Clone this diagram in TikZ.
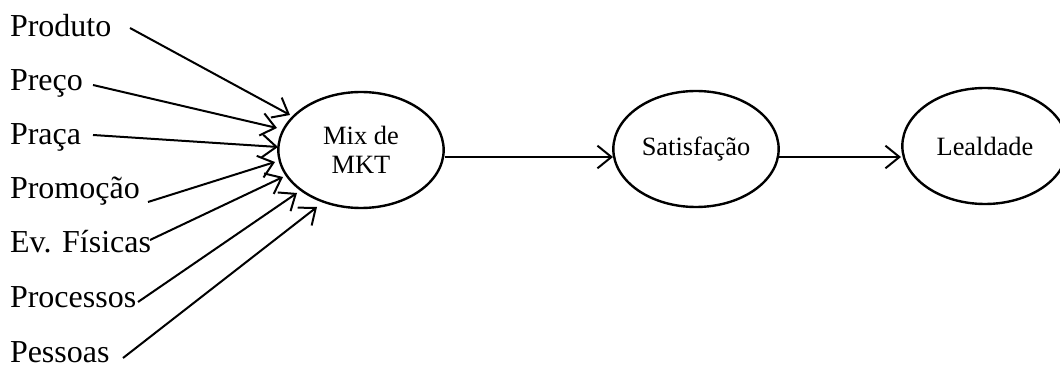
\documentclass[tikz,border=0pt]{standalone}
\usepackage{fontspec}
\setmainfont{Liberation Serif}
\usetikzlibrary{arrows.meta,shapes.geometric}
\begin{document}
% one unit = one pixel of a 1060 x 370 canvas, y pointing down
\begin{tikzpicture}[x=0.75pt,y=-0.75pt,
  every node/.style={inner sep=0pt,outer sep=0pt},
  factor/.style={anchor=base west,font=\fontsize{24pt}{28pt}\selectfont},
  oval/.style={draw,ellipse,line width=1.8pt,minimum width=124pt,minimum height=87pt,
    align=center,font=\fontsize{19.8pt}{21.8pt}\selectfont},
  conn/.style={line width=1.5pt,-{Straight Barb[length=10.5pt,width=17pt,line width=1.5pt]}}]
\useasboundingbox (0,0) rectangle (1060,370);

% the seven marketing-mix factors
\node[factor] (f1) at (10,37)  {Produto};
\node[factor] (f2) at (10,91)  {Preço};
\node[factor] (f3) at (10,145) {Praça};
\node[factor] (f4) at (10,199) {Promoção};
\node[factor] (f5) at (10,253) {Ev. Físicas};
\node[factor] (f6) at (10,308) {Processos};
\node[factor] (f7) at (10,362) {Pessoas};

% the three constructs
\node[oval] (mix) at (361,150) {Mix de\\MKT};
\node[oval] (sat) at (696,149) {Satisfação};
\node[oval] (lea) at (985,146) {Lealdade};

% start and end points of the factor arrows
\coordinate (s1) at (130,28);  \coordinate (t1) at (290,115);
\coordinate (s2) at (93,85);   \coordinate (t2) at (277,128);
\coordinate (s3) at (93,135);  \coordinate (t3) at (278,147);
\coordinate (s4) at (148,202); \coordinate (t4) at (275,162);
\coordinate (s5) at (150,240); \coordinate (t5) at (283,177);
\coordinate (s6) at (138,302); \coordinate (t6) at (297,193);
\coordinate (s7) at (123,358); \coordinate (t7) at (317,207);

\foreach \i in {1,...,7} \draw[conn] (s\i) -- (t\i);

% chain of effects
\coordinate (a1) at (445,157); \coordinate (a2) at (613,157);
\coordinate (b1) at (779,157); \coordinate (b2) at (901,157);
\draw[conn] (a1) -- (a2);
\draw[conn] (b1) -- (b2);
\end{tikzpicture}
\end{document}
